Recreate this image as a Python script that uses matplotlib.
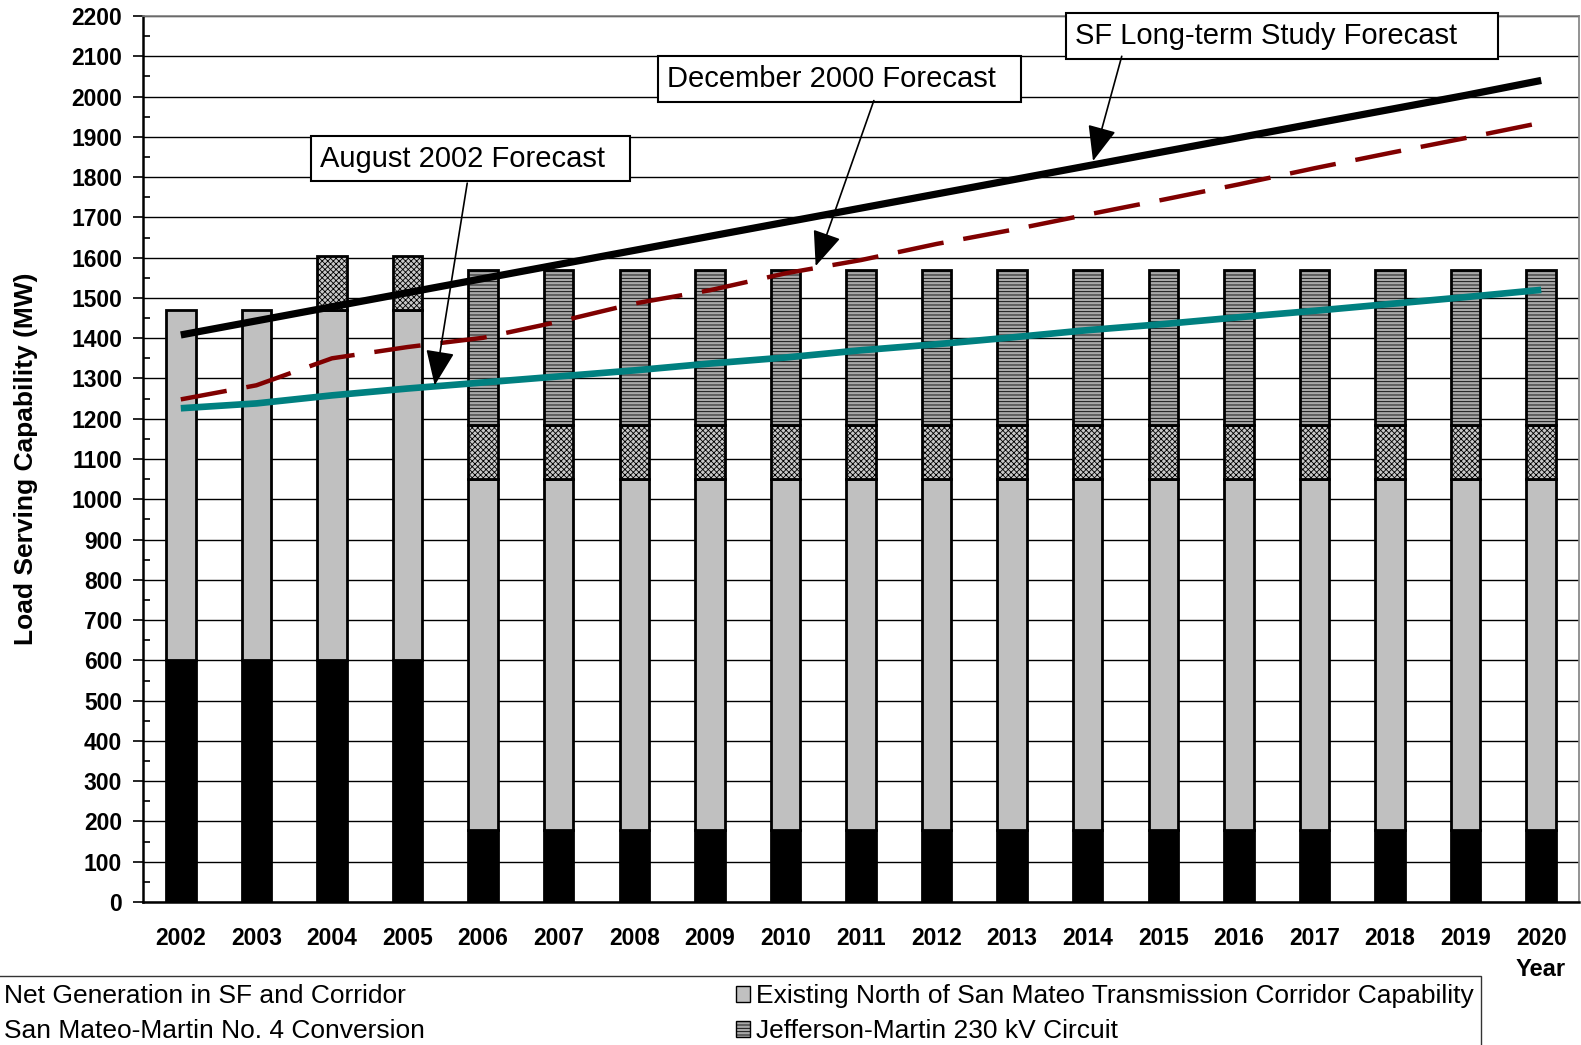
import matplotlib
matplotlib.use("Agg")
import matplotlib.pyplot as plt
from matplotlib.patches import Patch
from matplotlib.ticker import MultipleLocator
import numpy as np

years = [str(y) for y in range(2002, 2021)]
net_generation = [600, 600, 600, 600] + [180] * 15
existing_corridor = [870] * 19
san_mateo_conversion = [0, 0, 135, 135] + [135] * 15
jefferson_martin = [0, 0, 0, 0] + [385] * 15

sf_longterm = [1408, 1443, 1478, 1513, 1548, 1583, 1618, 1653, 1688, 1723,
               1758, 1793, 1828, 1863, 1898, 1933, 1968, 2003, 2040]
dec2000 = [1248, 1283, 1350, 1378, 1401, 1441, 1486, 1519, 1561, 1594,
           1634, 1669, 1707, 1744, 1782, 1822, 1860, 1897, 1935]
aug2002 = [1226, 1238, 1258, 1275, 1290, 1305, 1320, 1337, 1352, 1370,
           1385, 1402, 1420, 1435, 1452, 1468, 1485, 1502, 1520]

plt.rcParams['font.family'] = ['Liberation Sans', 'DejaVu Sans']
plt.rcParams['hatch.linewidth'] = 0.6

fig = plt.figure(figsize=(15.81, 10.45), dpi=100)
ax = fig.add_axes([143/1581, 1 - 902/1045, (1579-143)/1581, (902-16)/1045])

x = np.arange(len(years))
w = 0.39
ng = np.array(net_generation)
ex = np.array(existing_corridor)
sm = np.array(san_mateo_conversion)
jm = np.array(jefferson_martin)

b1 = ax.bar(x, ng, w, color='black', edgecolor='black', lw=2.0, zorder=2)
b2 = ax.bar(x, ex, w, bottom=ng, color='#c0c0c0', edgecolor='black', lw=2.0, zorder=2)
msk = sm > 0
b3 = ax.bar(x[msk], sm[msk], w, bottom=(ng + ex)[msk], color='#c8c8c8', edgecolor='black',
            lw=2.0, hatch='xxxxxx', zorder=2)
msk2 = jm > 0
b4 = ax.bar(x[msk2], jm[msk2], w, bottom=(ng + ex + sm)[msk2], color='#a8a8a8', edgecolor='black',
            lw=2.0, hatch='-----', zorder=2)

ax.plot(x, sf_longterm, color='black', lw=5.2, zorder=4, solid_capstyle='butt')
ax.plot(x, dec2000, color='#800000', lw=3.2, zorder=4, dashes=(10.5, 4.5))
ax.plot(x, aug2002, color='#008080', lw=4.8, zorder=4, solid_capstyle='butt')

ax.set_xlim(-0.5, len(years) - 0.5)
ax.set_ylim(0, 2200)
ax.yaxis.set_major_locator(MultipleLocator(100))
ax.yaxis.set_minor_locator(MultipleLocator(50))
ax.grid(axis='y', which='major', color='black', lw=1.0, zorder=0)
ax.set_axisbelow(True)
ax.tick_params(axis='y', which='major', direction='out', length=7, width=1.2, labelsize=16.5, pad=8)
ax.tick_params(axis='y', which='minor', direction='in', length=5, width=1.2)
ax.set_xticks(x)
ax.set_xticklabels(years)
ax.tick_params(axis='x', length=0, labelsize=16.5, pad=18)
for lab in ax.get_xticklabels() + ax.get_yticklabels():
    lab.set_fontweight('bold')

for s in ['left', 'bottom']:
    ax.spines[s].set_linewidth(1.8)
    ax.spines[s].set_color('black')
for s in ['top', 'right']:
    ax.spines[s].set_linewidth(1.2)
    ax.spines[s].set_color('#808080')

ax.set_ylabel('Load Serving Capability (MW)', fontsize=19, fontweight='bold')
ax.yaxis.set_label_coords(-105/1436, 0.5)
fig.text(1541/1581, 1 - 970/1045, 'Year', fontsize=17, fontweight='bold', ha='center', va='center')

box = dict(boxstyle='square,pad=0.3', fc='white', ec='black', lw=1.5)
arrow = dict(arrowstyle='-|>,head_length=1.1,head_width=0.45', color='black', lw=1.2,
             shrinkA=0, shrinkB=0, mutation_scale=20)

ax.text(11.83, 2150, 'SF Long-term Study Forecast    ', fontsize=21, ha='left', va='center', bbox=box, zorder=6)
ax.annotate('', xy=(12.07, 1840), xytext=(12.45, 2100), arrowprops=arrow, zorder=6)

ax.text(6.43, 2044, 'December 2000 Forecast  ', fontsize=21, ha='left', va='center', bbox=box, zorder=6)
ax.annotate('', xy=(8.4, 1579), xytext=(9.17, 1990), arrowprops=arrow, zorder=6)

ax.text(1.84, 1846, 'August 2002 Forecast  ', fontsize=21, ha='left', va='center', bbox=box, zorder=6)
ax.annotate('', xy=(3.36, 1283), xytext=(3.79, 1785), arrowprops=arrow, zorder=6)

handles = [Patch(fc='black', ec='black', lw=1),
           Patch(fc='#c8c8c8', ec='black', lw=1, hatch='xxxxxx'),
           Patch(fc='#c0c0c0', ec='black', lw=1),
           Patch(fc='#a8a8a8', ec='black', lw=1, hatch='-----')]
labels = ['Net Generation in SF and Corridor', 'San Mateo-Martin No. 4 Conversion',
          'Existing North of San Mateo Transmission Corridor Capability',
          'Jefferson-Martin 230 kV Circuit']
leg = fig.legend(handles, labels, ncol=2, loc='upper left', bbox_to_anchor=(-24/1581, 1 - 976/1045),
                 fontsize=19, frameon=True, fancybox=False, edgecolor='black',
                 handlelength=0.55, handleheight=0.55, handletextpad=0.2, columnspacing=11.8,
                 labelspacing=0.42, borderpad=0.3, borderaxespad=0)
leg.get_frame().set_linewidth(1.0)

fig.savefig('out.png', dpi=100)
